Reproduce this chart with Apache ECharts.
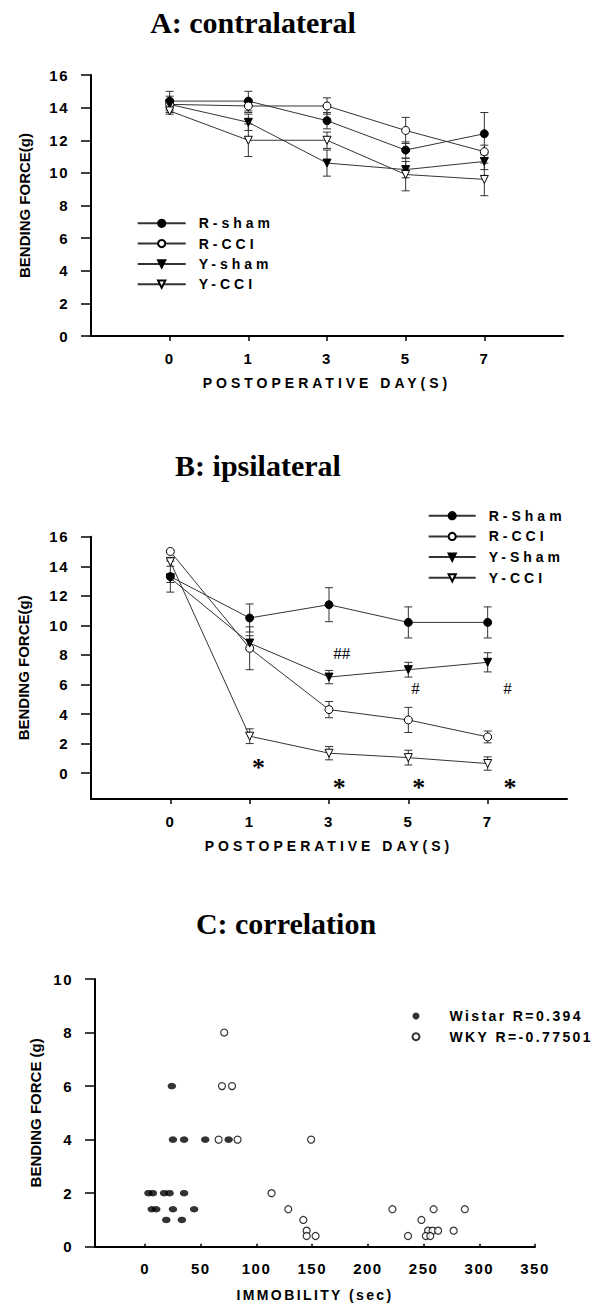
<!DOCTYPE html>
<html>
<head>
<meta charset="utf-8">
<script src="https://cdn.jsdelivr.net/npm/echarts@6/dist/echarts.min.js"></script>
<style>
  html, body { margin: 0; padding: 0; background: #fff; }
  #chart { width: 601px; height: 1304px; }
</style>
</head>
<body>
<div id="chart"></div>
<script>
const days = ["0", "1", "3", "5", "7"];

// A: contralateral (mean, sem)
const aRSham = [14.4, 14.4, 13.2, 11.4, 12.4];
const aRShamErr = [0.6, 0.6, 0.5, 0.5, 1.3];
const aRCCI = [14.2, 14.1, 14.1, 12.6, 11.3];
const aRCCIErr = [0.3, 0.4, 0.5, 0.8, 0.4];
const aYSham = [14.2, 13.1, 10.6, 10.2, 10.7];
const aYShamErr = [0.5, 0.5, 0.8, 0.5, 0.5];
const aYCCI = [13.8, 12.0, 12.0, 9.9, 9.6];
const aYCCIErr = [0.2, 1.0, 0.5, 1.0, 1.0];

// B: ipsilateral
const bRSham = [13.3, 10.5, 11.4, 10.2, 10.2];
const bRShamErr = [1.05, 0.95, 1.15, 1.05, 1.05];
const bRCCI = [15.0, 8.45, 4.3, 3.6, 2.45];
const bRCCIErr = [0.1, 1.45, 0.55, 0.85, 0.4];
const bYSham = [13.2, 8.8, 6.5, 7.0, 7.5];
const bYShamErr = [0.3, 0.5, 0.45, 0.5, 0.65];
const bYCCI = [14.3, 2.5, 1.35, 1.05, 0.65];
const bYCCIErr = [0.3, 0.5, 0.45, 0.5, 0.45];

// significance marks in B (x in day index, y in g)
const sigText = ["*", "*", "*", "*", "##", "#", "#"];
const sigX = [1.11, 2.13, 3.13, 4.28, 2.16, 3.09, 4.25];
const sigY = [0.4, -0.95, -0.95, -0.95, 8.1, 5.75, 5.75];

// C: correlation
const wistarX = [24, 25, 35, 54, 75, 3, 7, 17, 22, 35, 6, 10, 25, 44, 19, 33];
const wistarY = [6, 4, 4, 4, 4, 2, 2, 2, 2, 2, 1.4, 1.4, 1.4, 1.4, 1, 1];
const wkyX = [71, 69, 78, 66, 83, 113.5, 128.5, 149, 142, 145, 145, 153, 222, 259, 287, 248, 236, 254, 258, 263, 252, 256, 277];
const wkyY = [8, 6, 6, 4, 4, 2, 1.4, 4, 1.0, 0.6, 0.4, 0.4, 1.4, 1.4, 1.4, 1.0, 0.4, 0.6, 0.6, 0.6, 0.4, 0.4, 0.6];

const chart = echarts.init(document.getElementById("chart"), null, { renderer: "svg" });

const tickFont = { color: "#000", fontWeight: "bold", fontSize: 15, fontFamily: "Arial" };
const yNameFont = { color: "#000", fontWeight: "bold", fontSize: 15, fontFamily: "Arial" };
const axisLine = { show: true, onZero: false, lineStyle: { color: "#000", width: 2 } };

function dayAxis(gridIndex) {
  return {
    type: "value", gridIndex, min: -1, max: 5,
    name: "POSTOPERATIVE DAY(S)", nameLocation: "middle", nameGap: 40,
    nameTextStyle: { color: "#000", fontWeight: "bold", fontSize: 14, fontFamily: "Arial" },
    axisLine,
    axisTick: { show: true, customValues: [0, 1, 2, 3, 4], length: 5, lineStyle: { color: "#000", width: 1.5 } },
    axisLabel: { customValues: [0, 1, 2, 3, 4], formatter: (v) => days[v], margin: 15, ...tickFont },
    splitLine: { show: false },
  };
}

function forceAxis(gridIndex, min, max, step, name, gap) {
  const vals = [];
  for (let v = 0; v <= max; v += step) vals.push(v);
  return {
    type: "value", gridIndex, min, max,
    name, nameLocation: "middle", nameGap: gap, nameTextStyle: yNameFont,
    axisLine,
    axisTick: { show: true, customValues: vals, length: 10, lineStyle: { color: "#000", width: 1.5 } },
    axisLabel: { customValues: vals, margin: 22, ...tickFont },
    splitLine: { show: false },
  };
}

function lineSeries(name, xi, vals, tri, filled) {
  return {
    name, type: "line", xAxisIndex: xi, yAxisIndex: xi,
    data: vals.map((v, i) => [i, v]),
    symbol: tri ? "triangle" : "circle", symbolRotate: tri ? 180 : 0, symbolSize: 8,
    lineStyle: { color: "#333", width: 1 },
    itemStyle: { color: filled ? "#000" : "#fff", borderColor: "#000", borderWidth: 1 },
    emphasis: { disabled: true }, z: 3,
  };
}

function errSeries(xi, vals, errs) {
  return {
    type: "custom", xAxisIndex: xi, yAxisIndex: xi, silent: true, z: 2,
    data: vals.map((v, i) => [i, v - errs[i], v + errs[i]]),
    encode: { x: 0, y: [1, 2] },
    renderItem(params, api) {
      const lo = api.coord([api.value(0), api.value(1)]);
      const hi = api.coord([api.value(0), api.value(2)]);
      const st = { stroke: "#333", lineWidth: 1 };
      return {
        type: "group",
        children: [
          { type: "line", shape: { x1: lo[0], y1: lo[1], x2: hi[0], y2: hi[1] }, style: st },
          { type: "line", shape: { x1: lo[0] - 4, y1: lo[1], x2: lo[0] + 4, y2: lo[1] }, style: st },
          { type: "line", shape: { x1: hi[0] - 4, y1: hi[1], x2: hi[0] + 4, y2: hi[1] }, style: st },
        ],
      };
    },
  };
}

const legendText = { color: "#000", fontWeight: "bold", fontSize: 14, fontFamily: "Arial", padding: [0, 0, 0, 8] };
const serifTitle = { fill: "#000", font: "bold 30px 'Liberation Serif', 'Times New Roman', serif", textAlign: "center", textVerticalAlign: "middle" };

chart.setOption({
  animation: false,
  backgroundColor: "#fff",
  graphic: [
    { type: "text", x: 253, y: 22, style: { text: "A: contralateral", ...serifTitle } },
    { type: "text", x: 258, y: 465, style: { text: "B: ipsilateral", ...serifTitle } },
    { type: "text", x: 286, y: 923, style: { text: "C: correlation", ...serifTitle } },
  ],
  grid: [
    { left: 91, top: 75, width: 472, height: 261, outerBoundsMode: "none" },
    { left: 91, top: 536.7, width: 476, height: 262.3, outerBoundsMode: "none" },
    { left: 95, top: 979, width: 440, height: 267.7, outerBoundsMode: "none" },
  ],
  legend: [
    {
      data: ["R-sham", "R-CCI", "Y-sham", "Y-CCI"], orient: "vertical", left: 136.7, top: 216.3,
      itemWidth: 48, itemHeight: 9, itemGap: 6.3, padding: 0, symbolRotate: "inherit",
      selectedMode: false, textStyle: legendText,
    },
    {
      data: ["R-Sham", "R-CCI ", "Y-Sham", "Y-CCI "], orient: "vertical", left: 427.7, top: 508.7,
      itemWidth: 47, itemHeight: 9, itemGap: 6.7, padding: 0, symbolRotate: "inherit",
      selectedMode: false, textStyle: legendText,
    },
    {
      data: ["Wistar R=0.394", "WKY R=-0.77501"], orient: "vertical", left: 411.5, top: 1009,
      itemWidth: 7, itemHeight: 7, itemGap: 6.7, padding: 0,
      selectedMode: false,
      textStyle: { color: "#000", fontWeight: "bold", fontSize: 14, fontFamily: "Arial", padding: [0, 0, 0, 25] },
    },
  ],
  xAxis: [
    dayAxis(0),
    dayAxis(1),
    {
      type: "value", gridIndex: 2, min: -45, max: 350,
      name: "IMMOBILITY (sec)", nameLocation: "middle", nameGap: 41,
      nameTextStyle: { color: "#000", fontWeight: "bold", fontSize: 14, fontFamily: "Arial" },
      axisLine,
      axisTick: { show: true, inside: true, length: 3, customValues: [0, 50, 100, 150, 200, 250, 300, 350], lineStyle: { color: "#000", width: 1.5 } },
      axisLabel: { customValues: [0, 50, 100, 150, 200, 250, 300, 350], margin: 14, ...tickFont },
      splitLine: { show: false },
    },
  ],
  yAxis: [
    forceAxis(0, 0, 16, 2, "BENDING FORCE(g)", 59),
    forceAxis(1, -1.75, 16, 2, "BENDING FORCE(g)", 60),
    forceAxis(2, 0, 10, 2, "BENDING FORCE (g)", 52),
  ],
  series: [
    errSeries(0, aRSham, aRShamErr),
    errSeries(0, aRCCI, aRCCIErr),
    errSeries(0, aYSham, aYShamErr),
    errSeries(0, aYCCI, aYCCIErr),
    lineSeries("R-sham", 0, aRSham, false, true),
    lineSeries("R-CCI", 0, aRCCI, false, false),
    lineSeries("Y-sham", 0, aYSham, true, true),
    lineSeries("Y-CCI", 0, aYCCI, true, false),

    errSeries(1, bRSham, bRShamErr),
    errSeries(1, bRCCI, bRCCIErr),
    errSeries(1, bYSham, bYShamErr),
    errSeries(1, bYCCI, bYCCIErr),
    lineSeries("R-Sham", 1, bRSham, false, true),
    lineSeries("R-CCI ", 1, bRCCI, false, false),
    lineSeries("Y-Sham", 1, bYSham, true, true),
    lineSeries("Y-CCI ", 1, bYCCI, true, false),
    {
      type: "custom", xAxisIndex: 1, yAxisIndex: 1, silent: true, z: 4,
      data: sigX.map((x, i) => [x, sigY[i]]),
      encode: { x: 0, y: 1 },
      renderItem(params, api) {
        const p = api.coord([api.value(0), api.value(1)]);
        const t = sigText[params.dataIndex];
        return {
          type: "text", x: p[0], y: p[1],
          style: {
            text: t, fill: "#000", align: "center", verticalAlign: "middle",
            font: t === "*" ? "bold 26px 'Liberation Serif', serif" : "17px 'Liberation Serif', serif",
          },
        };
      },
    },

    {
      name: "Wistar R=0.394", type: "scatter", xAxisIndex: 2, yAxisIndex: 2,
      data: wistarX.map((x, i) => [x, wistarY[i]]),
      symbol: "circle", symbolSize: [8.5, 6.5], itemStyle: { color: "#000" }, emphasis: { disabled: true },
    },
    {
      name: "WKY R=-0.77501", type: "scatter", xAxisIndex: 2, yAxisIndex: 2,
      data: wkyX.map((x, i) => [x, wkyY[i]]),
      symbol: "circle", symbolSize: 7, itemStyle: { color: "#fff", borderColor: "#000", borderWidth: 1.2 },
      emphasis: { disabled: true },
    },
  ],
});

// the figure's captions are letter-spaced; widen them in the svg after render
const wide = ["R-sham", "R-CCI", "Y-sham", "Y-CCI", "R-Sham", "Y-Sham", "POSTOPERATIVE DAY(S)"];
const medium = ["Wistar R=0.394", "WKY R=-0.77501", "IMMOBILITY (sec)"];
function spaceOut() {
  document.querySelectorAll("#chart text").forEach((t) => {
    const s = t.textContent.trim();
    let ls = 0;
    if (wide.includes(s)) ls = 4;
    else if (medium.includes(s)) ls = 2.4;
    else if (/^-?\d+$/.test(s)) ls = 1.5;
    if (ls) t.setAttribute("letter-spacing", ls + "px");
  });
}
chart.on("finished", spaceOut);
spaceOut();
setTimeout(spaceOut, 50);
</script>
</body>
</html>
